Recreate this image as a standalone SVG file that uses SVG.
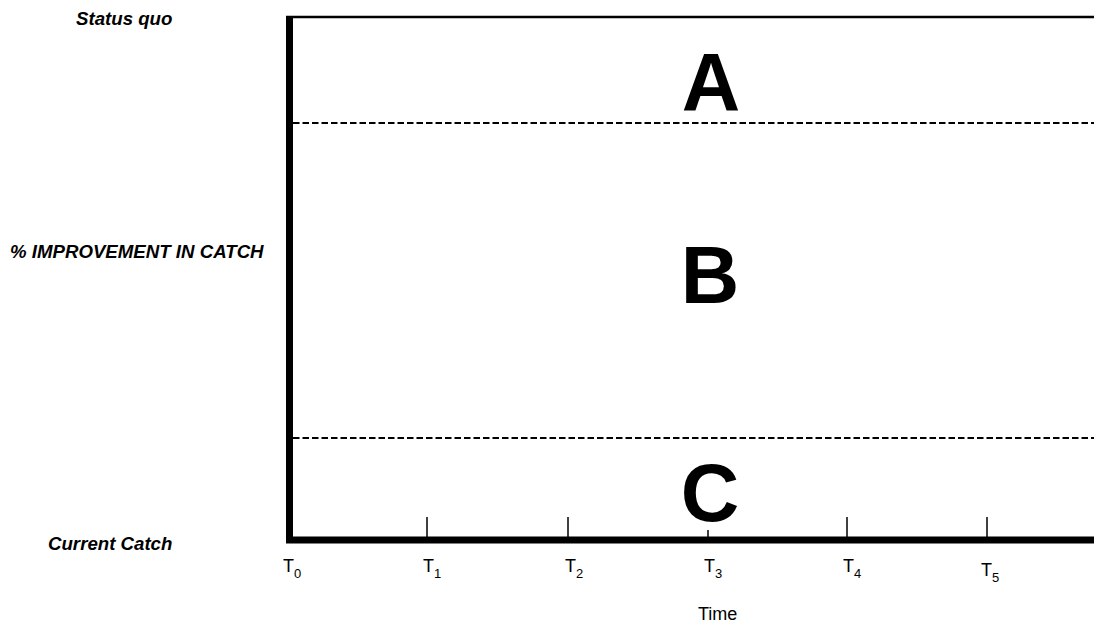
<svg xmlns="http://www.w3.org/2000/svg" width="1094" height="623" viewBox="0 0 1094 623">
  <style>
    .lbl { font-family: "Liberation Sans", Arial, sans-serif; font-weight: bold; font-style: italic; font-size: 18.67px; fill: #000; }
    .big { font-family: "Liberation Sans", Arial, sans-serif; font-weight: bold; font-size: 81px; fill: #000; text-anchor: middle; }
    .tk { font-family: "Liberation Sans", Arial, sans-serif; font-size: 18px; fill: #000; }
    .sub { font-size: 13px; }
    .dash { stroke: #000; stroke-width: 2; stroke-dasharray: 6.5 3; fill: none; }
    .tick { stroke: #000; stroke-width: 1.5; }
  </style>
  <rect width="1094" height="623" fill="#fff"/>
  <g id="axes">
    <line x1="286" y1="17" x2="1094" y2="17" stroke="#000" stroke-width="2.5"/>
    <line x1="289.5" y1="16" x2="289.5" y2="543" stroke="#000" stroke-width="7"/>
    <line x1="286" y1="540" x2="1094" y2="540" stroke="#000" stroke-width="7"/>
  </g>
  <g id="connectors">
    <line class="dash" x1="293" y1="123" x2="1094" y2="123"/>
    <line class="dash" x1="293" y1="438" x2="1094" y2="438"/>
  </g>
  <g id="ticks">
    <line class="tick" x1="427" y1="517" x2="427" y2="537"/>
    <line class="tick" x1="568" y1="517" x2="568" y2="537"/>
    <line class="tick" x1="708" y1="530" x2="708" y2="537"/>
    <line class="tick" x1="847" y1="517" x2="847" y2="537"/>
    <line class="tick" x1="987" y1="517" x2="987" y2="537"/>
  </g>
  <g id="region-A"><text class="big" x="711" y="110">A</text></g>
  <g id="region-B"><text class="big" x="710" y="303">B</text></g>
  <g id="region-C"><text class="big" x="710" y="521">C</text></g>
  <g id="labels">
    <text class="lbl" x="76" y="25">Status quo</text>
    <text class="lbl" x="10" y="258">% IMPROVEMENT IN CATCH</text>
    <text class="lbl" x="48" y="550">Current Catch</text>
    <text class="tk" x="698" y="620">Time</text>
  </g>
  <g id="time-labels">
    <text class="tk" x="283" y="572">T<tspan class="sub" dy="6">0</tspan></text>
    <text class="tk" x="423" y="572">T<tspan class="sub" dy="6">1</tspan></text>
    <text class="tk" x="565" y="572">T<tspan class="sub" dy="6">2</tspan></text>
    <text class="tk" x="704" y="572">T<tspan class="sub" dy="6">3</tspan></text>
    <text class="tk" x="843" y="572">T<tspan class="sub" dy="6">4</tspan></text>
    <text class="tk" x="981" y="576">T<tspan class="sub" dy="6">5</tspan></text>
  </g>
</svg>
